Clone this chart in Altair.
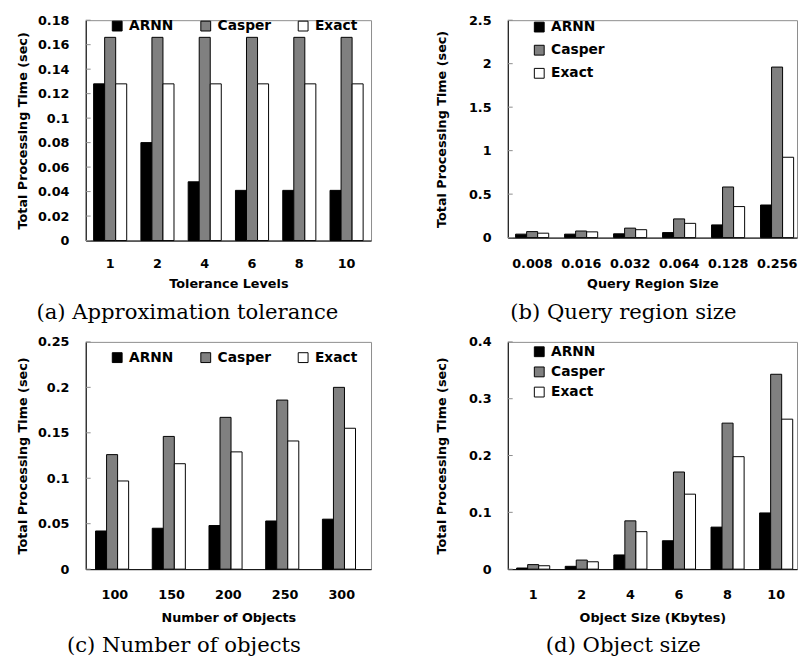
import altair as alt
import pandas as pd

series = ["ARNN", "Casper", "Exact"]
series_colors = ["#000000", "#808080", "#ffffff"]
y_title = "Total Processing Time (sec)"

# (a) Approximation tolerance
a_cats = ["1", "2", "4", "6", "8", "10"]
a_arnn = [0.128, 0.080, 0.048, 0.041, 0.041, 0.041]
a_casper = [0.166, 0.166, 0.166, 0.166, 0.166, 0.166]
a_exact = [0.128, 0.128, 0.128, 0.128, 0.128, 0.128]
a_ticks = [0, 0.02, 0.04, 0.06, 0.08, 0.1, 0.12, 0.14, 0.16, 0.18]

# (b) Query region size
b_cats = ["0.008", "0.016", "0.032", "0.064", "0.128", "0.256"]
b_arnn = [0.040, 0.040, 0.044, 0.058, 0.146, 0.375]
b_casper = [0.069, 0.076, 0.109, 0.215, 0.582, 1.961]
b_exact = [0.051, 0.066, 0.091, 0.164, 0.357, 0.924]
b_ticks = [0, 0.5, 1, 1.5, 2, 2.5]

# (c) Number of objects
c_cats = ["100", "150", "200", "250", "300"]
c_arnn = [0.042, 0.045, 0.048, 0.053, 0.055]
c_casper = [0.126, 0.146, 0.167, 0.186, 0.200]
c_exact = [0.097, 0.116, 0.129, 0.141, 0.155]
c_ticks = [0, 0.05, 0.1, 0.15, 0.2, 0.25]

# (d) Object size
d_cats = ["1", "2", "4", "6", "8", "10"]
d_arnn = [0.002, 0.005, 0.025, 0.050, 0.074, 0.099]
d_casper = [0.008, 0.016, 0.085, 0.171, 0.257, 0.343]
d_exact = [0.006, 0.013, 0.066, 0.132, 0.198, 0.264]
d_ticks = [0, 0.1, 0.2, 0.3, 0.4]

SANS = "DejaVu Sans"
SERIF = "DejaVu Serif"


def make_legend(x, y, direction, row_pad=0, col_pad=25):
    return alt.Legend(
        orient="none", legendX=x, legendY=y, direction=direction, title=None,
        symbolType="square", symbolSize=100, symbolStrokeColor="black",
        symbolStrokeWidth=1, labelFont=SANS, labelFontSize=14,
        labelFontWeight="bold", labelColor="black", labelOffset=5,
        columnPadding=col_pad, rowPadding=row_pad, padding=0,
    )


def panel(cats, arnn, casper, exact, ticks, xtitle, width, height, pin, pout, balign,
          xlab_pad, xtitle_pad, ytitle_pad, legend, caption, cap_anchor, cap_dx, cap_offset):
    rows = []
    for i, c in enumerate(cats):
        for s, vals in zip(series, [arnn, casper, exact]):
            rows.append({"cat": c, "series": s, "value": vals[i]})
    df = pd.DataFrame(rows)
    ydef = alt.Y(
        "value:Q",
        scale=alt.Scale(domain=[ticks[0], ticks[-1]], nice=False, zero=True),
        axis=alt.Axis(values=ticks, format="~g", title=y_title, ticks=False,
                      grid=False, labelPadding=17, titlePadding=ytitle_pad),
    )
    bars = alt.Chart(df).mark_bar(stroke="black", strokeWidth=1).encode(
        x=alt.X("cat:N", sort=cats,
                scale=alt.Scale(paddingInner=pin, paddingOuter=pout, align=balign),
                axis=alt.Axis(title=xtitle, labelAngle=0, ticks=False,
                              labelPadding=xlab_pad, titlePadding=xtitle_pad)),
        xOffset=alt.XOffset("series:N", sort=series,
                            scale=alt.Scale(paddingInner=0, paddingOuter=0)),
        y=ydef,
        fill=alt.Fill("series:N", sort=series,
                      scale=alt.Scale(domain=series, range=series_colors),
                      legend=legend),
    )
    tdf = pd.DataFrame({"value": ticks})
    rules = alt.Chart(tdf).mark_rule(color="#8c8c8c", strokeWidth=1).encode(
        y=ydef, x=alt.value(0), x2=alt.value(5)
    )
    return alt.layer(bars, rules).properties(
        width=width, height=height,
        title=alt.TitleParams(text=caption, orient="bottom", anchor=cap_anchor,
                              frame="bounds", dx=cap_dx, offset=cap_offset,
                              font=SERIF, fontSize=21.5, fontWeight="normal",
                              color="black"),
    )


pa = panel(a_cats, a_arnn, a_casper, a_exact, a_ticks, "Tolerance Levels",
           290, 224, 0.30, 0.167, 0.5, 17.5, 7.5, 8,
           make_legend(25, -1, "horizontal"), "(a) Approximation tolerance",
           "start", 20, 12)
pb = panel(b_cats, b_arnn, b_casper, b_exact, b_ticks, "Query Region Size",
           294, 221, 0.317, 0.111, 0.72, 20.5, 7.5, 20,
           make_legend(25, 0, "vertical", row_pad=9.5), "(b) Query region size",
           "middle", 7, 12)
pc = panel(c_cats, c_arnn, c_casper, c_exact, c_ticks, "Number of Objects",
           290, 231, 0.316, 0.173, 0.5, 19.5, 11, 8,
           make_legend(25, 9, "horizontal"), "(c) Number of objects",
           "start", 51, 11)
pd_ = panel(d_cats, d_arnn, d_casper, d_exact, d_ticks, "Object Size (Kbytes)",
            294, 231, 0.32, 0.136, 0.67, 19.5, 11, 20,
            make_legend(25, 3, "vertical", row_pad=6.5), "(d) Object size",
            "middle", 7, 11)

chart = alt.concat(
    pa, pb, pc, pd_, columns=2, spacing={"row": 103, "column": 139},
    bounds="flush", align="each",
).resolve_scale(fill="independent", y="independent", x="independent").resolve_legend(
    fill="independent"
).properties(
    padding={"left": 8, "top": 0, "right": 0, "bottom": 0}
).configure_view(
    stroke="#8c8c8c", strokeWidth=1
).configure_axis(
    domainColor="black", domainWidth=1,
    labelFont=SANS, labelFontSize=13, labelFontWeight="bold", labelColor="black",
    titleFont=SANS, titleFontSize=13, titleFontWeight="bold", titleColor="black",
)

chart.save("out.html", embed_options={"renderer": "svg", "actions": False})
